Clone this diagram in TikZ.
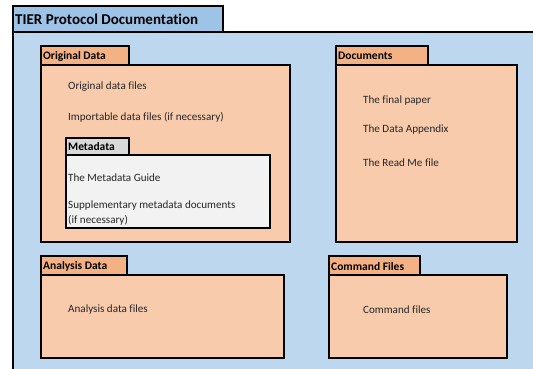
\documentclass[tikz,border=0pt]{standalone}
\usepackage{fontspec}
\setmainfont{Carlito}[Ligatures=NoCommon]
\usepackage{tikz}

\definecolor{outerblue}{HTML}{BDD7EE}
\definecolor{tabblue}{HTML}{9DC3E6}
\definecolor{peach}{HTML}{F8CBAD}
\definecolor{peachtab}{HTML}{F4B183}
\definecolor{metagrey}{HTML}{F2F2F2}
\definecolor{metatab}{HTML}{D9D9D9}
\definecolor{txt}{HTML}{262626}

\tikzset{
  box/.style={draw=black, line width=1.5pt},
  tabtext/.style={anchor=west, inner sep=0pt, font=\fontsize{11.5}{13}\selectfont\bfseries},
  item/.style={anchor=west, inner sep=0pt, text=txt, font=\fontsize{11.1}{14.5}\selectfont},
}

\begin{document}
\begin{tikzpicture}[x=1pt, y=-1pt]
        \useasboundingbox (0, 0) rectangle (533, 368);
        \clip (0, 0) rectangle (533, 368);
        \fill[white] (0, 0) rectangle (533, 368);

        % outer folder
        \draw[box, fill=outerblue] (13, 32) rectangle (560, 390);
        \draw[box, fill=tabblue] (13, 6) rectangle (223, 32);
        \node[tabtext, font=\fontsize{15}{17}\selectfont\bfseries] (tier) at (15, 19) {TIER Protocol Documentation};

        % original data
        \draw[box, fill=peach] (41, 65) rectangle (290, 242);
        \draw[box, fill=peachtab] (41, 46) rectangle (129, 65);
        \node[tabtext] (origdata) at (43, 56) {Original Data};
        \node[item] (origfiles) at (68, 87) {Original data files};
        \node[item] (importfiles) at (68, 117) {Importable data files (if necessary)};

        % metadata
        \draw[box, fill=metagrey] (66, 155) rectangle (270, 228);
        \draw[box, fill=metatab] (66, 138) rectangle (129, 155);
        \node[tabtext] (metadata) at (68, 147) {Metadata};
        \node[item] (guide) at (68, 178) {The Metadata Guide};
        \node[item, align=left, anchor=north west] (supp) at (68, 201) {Supplementary metadata documents\\(if necessary)};

        % documents
        \draw[box, fill=peach] (336, 65) rectangle (517, 242);
        \draw[box, fill=peachtab] (336, 46) rectangle (428, 65);
        \node[tabtext] (docs) at (338, 56) {Documents};
        \node[item] (paper) at (363, 101) {The final paper};
        \node[item] (appendix) at (363, 130) {The Data Appendix};
        \node[item] (readme) at (363, 163) {The Read Me file};

        % analysis data
        \draw[box, fill=peach] (41, 275) rectangle (284, 358);
        \draw[box, fill=peachtab] (41, 256) rectangle (127, 275);
        \node[tabtext] (analysis) at (43, 266) {Analysis Data};
        \node[item] (anfiles) at (68, 310) {Analysis data files};

        % command files
        \draw[box, fill=peach] (329, 275) rectangle (507, 358);
        \draw[box, fill=peachtab] (329, 256) rectangle (420, 275);
        \node[tabtext] (command) at (331, 266) {Command Files};
        \node[item] (cmdfiles) at (363, 310) {Command files};
    \end{tikzpicture}
\end{document}
